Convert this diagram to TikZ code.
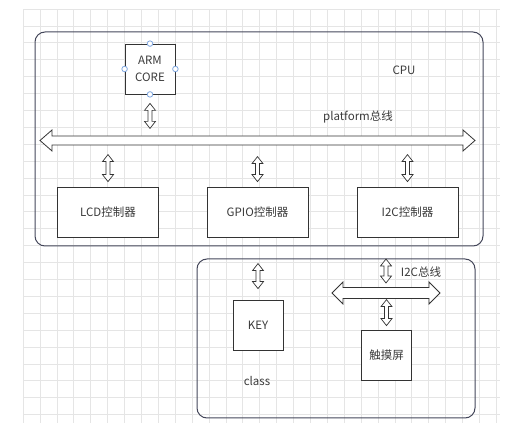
\documentclass[tikz,border=0pt]{standalone}
\usepackage{fontspec}
\setmainfont{Noto Sans CJK SC}
\usetikzlibrary{calc}
\definecolor{ln}{HTML}{333333}
\definecolor{frm}{HTML}{44475A}
\definecolor{hd}{HTML}{7EA6E0}
\definecolor{txt}{HTML}{3A3A3A}

\begin{document}
\begin{tikzpicture}[x=1pt, y=-1pt, font=\fontsize{11.5}{17}\selectfont, text=txt,
  grid/.style={draw=gray!20, line width=0.6pt},
  frame/.style={draw=frm, line width=1pt, rounded corners=10pt},
  box/.style={draw=ln, fill=white, line width=0.8pt, inner sep=0pt, minimum width=50pt, minimum height=50pt, align=center},
  ctl/.style={box, minimum width=101pt},
  hdl/.style={circle, draw=hd, fill=white, line width=0.8pt, inner sep=0pt, minimum size=5.5pt},
  vdbl/.style={draw=ln, fill=white, line width=0.7pt, to path={
    -- ++(5.5,7) -- ++(-3.5,0) -- ($(\tikztotarget)+(2,-7)$) -- ++(3.5,0)
    -- (\tikztotarget) -- ++(-5.5,-7) -- ++(3.5,0) -- ($(\tikztostart)+(-2,7)$)
    -- ++(-3.5,0) -- cycle}},
  hdbl/.style n args={3}{draw=ln, fill=white, line width=0.8pt, to path={
    -- ++(#3,-#2) -- ++(0,#2-#1) -- ($(\tikztotarget)+(-#3,-#1)$) -- ++(0,#1-#2)
    -- (\tikztotarget) -- ++(-#3,#2) -- ++(0,#1-#2) -- ($(\tikztostart)+(#3,#1)$)
    -- ++(0,#2-#1) -- cycle}}
]
\useasboundingbox (0,0) rectangle (515,438);
% background grid
\foreach \i in {0,...,28} \draw[grid] (23+\i*16.9,9) -- (23+\i*16.9,423);
\foreach \j in {0,...,24} \draw[grid] (23,9+\j*16.9) -- (500,9+\j*16.9);
% containers
\draw[frame] (35,32) rectangle (483,246);
\draw[frame] (197,259) rectangle (475,418);
\node (cpulbl) at (404,70) {CPU};
\node (class) at (257,381) {class};
% blocks
\node[box] (armcore) at (150,69) {ARM\\CORE};
\foreach \a in {north,south,east,west} \node[hdl] (h-\a) at (armcore.\a) {};
\node[ctl] (lcd)  at (108,212)   {LCD控制器};
\node[ctl] (gpio) at (257.5,212) {GPIO控制器};
\node[ctl] (i2c)  at (407.5,212) {I2C控制器};
\node[box] (key)   at (258,325)   {KEY};
\node[box] (touch) at (386.5,355) {触摸屏};
% platform bus
\coordinate (pbL) at (40,140.5);
\coordinate (pbR) at (475,140.5);
\draw[hdbl={4.5}{10.5}{12}] (pbL) to (pbR);
\node (pblbl) at (358,117) {platform总线};
% i2c bus
\coordinate (ibL) at (332,293);
\coordinate (ibR) at (440,293);
\draw[hdbl={5.5}{11}{11}] (ibL) to (ibR);
\node (iblbl) at (421,272) {I2C总线};
% links to the buses
\draw[vdbl] ($(armcore.south)+(0,9)$) to ($(armcore.south)+(0,34)$);
\draw[vdbl] ($(lcd.north)+(0,-32)$) to ($(lcd.north)+(0,-5)$);
\draw[vdbl] ($(gpio.north)+(0,-30)$) to ($(gpio.north)+(0,-5)$);
\draw[vdbl] ($(i2c.north)+(0,-32)$) to ($(i2c.north)+(0,-5)$);
\draw[vdbl] ($(key.north)+(0,-36)$) to ($(key.north)+(0,-11)$);
\draw[vdbl] ($(ibL)!0.5!(ibR)+(0,-34)$) to ($(ibL)!0.5!(ibR)+(0,-10)$);
\draw[vdbl] ($(touch.north)+(0,-30)$) to ($(touch.north)+(0,-4)$);
\end{tikzpicture}
\end{document}
